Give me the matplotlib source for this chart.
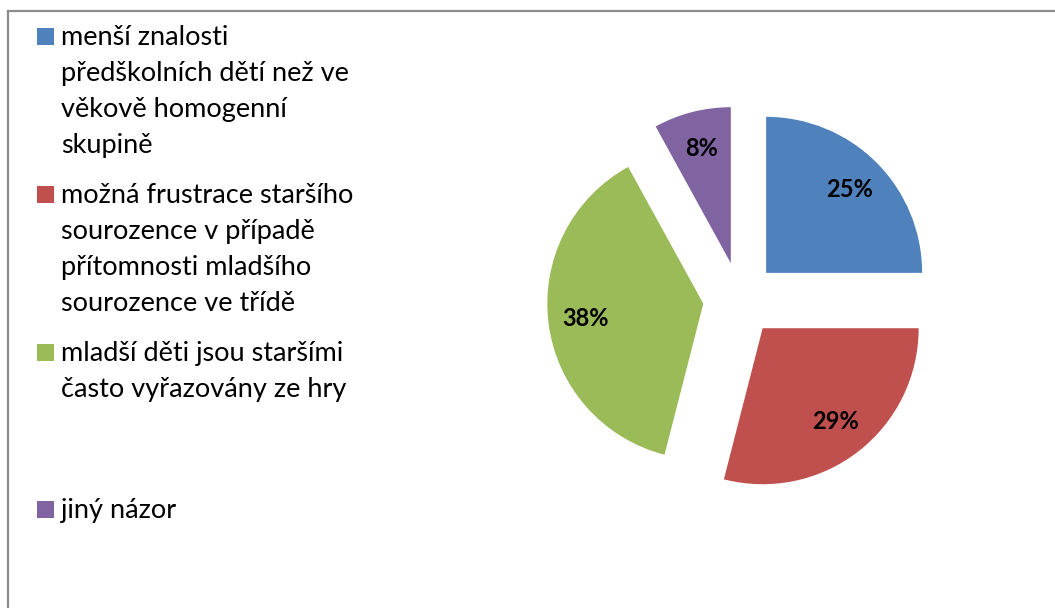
import matplotlib
matplotlib.use("Agg")
import matplotlib.pyplot as plt
from matplotlib.patches import Rectangle
from matplotlib.lines import Line2D

# Survey answers and their shares
labels = [
    "menší znalosti\npředškolních dětí než ve\nvěkově homogenní\nskupině",
    "možná frustrace staršího\nsourozence v případě\npřítomnosti mladšího\nsourozence ve třídě",
    "mladší děti jsou staršími\nčasto vyřazovány ze hry",
    "jiný názor",
]
shares = [25, 29, 38, 8]
colors = ["#4F81BD", "#C0504D", "#9BBB59", "#8064A2"]

W, H = 1055, 608
R = 156  # pie radius in pixel units
fig = plt.figure(figsize=(W / 100, H / 100), dpi=100)
ax = fig.add_axes([0, 0, 1, 1])

# explode offsets are in data units, so scale them with the radius
wedges, texts, autotexts = ax.pie(
    shares,
    colors=colors,
    explode=[0.237 * R] * len(shares),
    startangle=90,
    counterclock=False,
    center=(740, H - 299),
    radius=R,
    autopct="%d%%",
    pctdistance=0.76,
    wedgeprops=dict(linewidth=0),
    textprops=dict(fontfamily="Lato", fontsize=17, fontweight="bold", color="black"),
)

ax.set_xlim(0, W)
ax.set_ylim(0, H)
ax.set_aspect("equal")
ax.axis("off")

# Chart-area frame (only top and left edges fall inside the image)
ax.add_line(Line2D([7.5, 7.5], [0, H - 11], color="#8C8C8C", lw=1.6))
ax.add_line(Line2D([7.5, W], [H - 11, H - 11], color="#8C8C8C", lw=1.6))

# Legend: colour swatch plus wrapped label text
first_baselines = [45, 203, 361, 518]
line_step = 36
for lab, col, yb in zip(labels, colors, first_baselines):
    ax.add_patch(Rectangle((37, H - yb), 17, 17, facecolor=col, edgecolor="none"))
    for i, line in enumerate(lab.split("\n")):
        ax.text(61, H - (yb + i * line_step), line, fontfamily="Lato",
                fontsize=19.5, va="baseline", ha="left", color="black")

fig.savefig("out.png", dpi=100, facecolor="white")
